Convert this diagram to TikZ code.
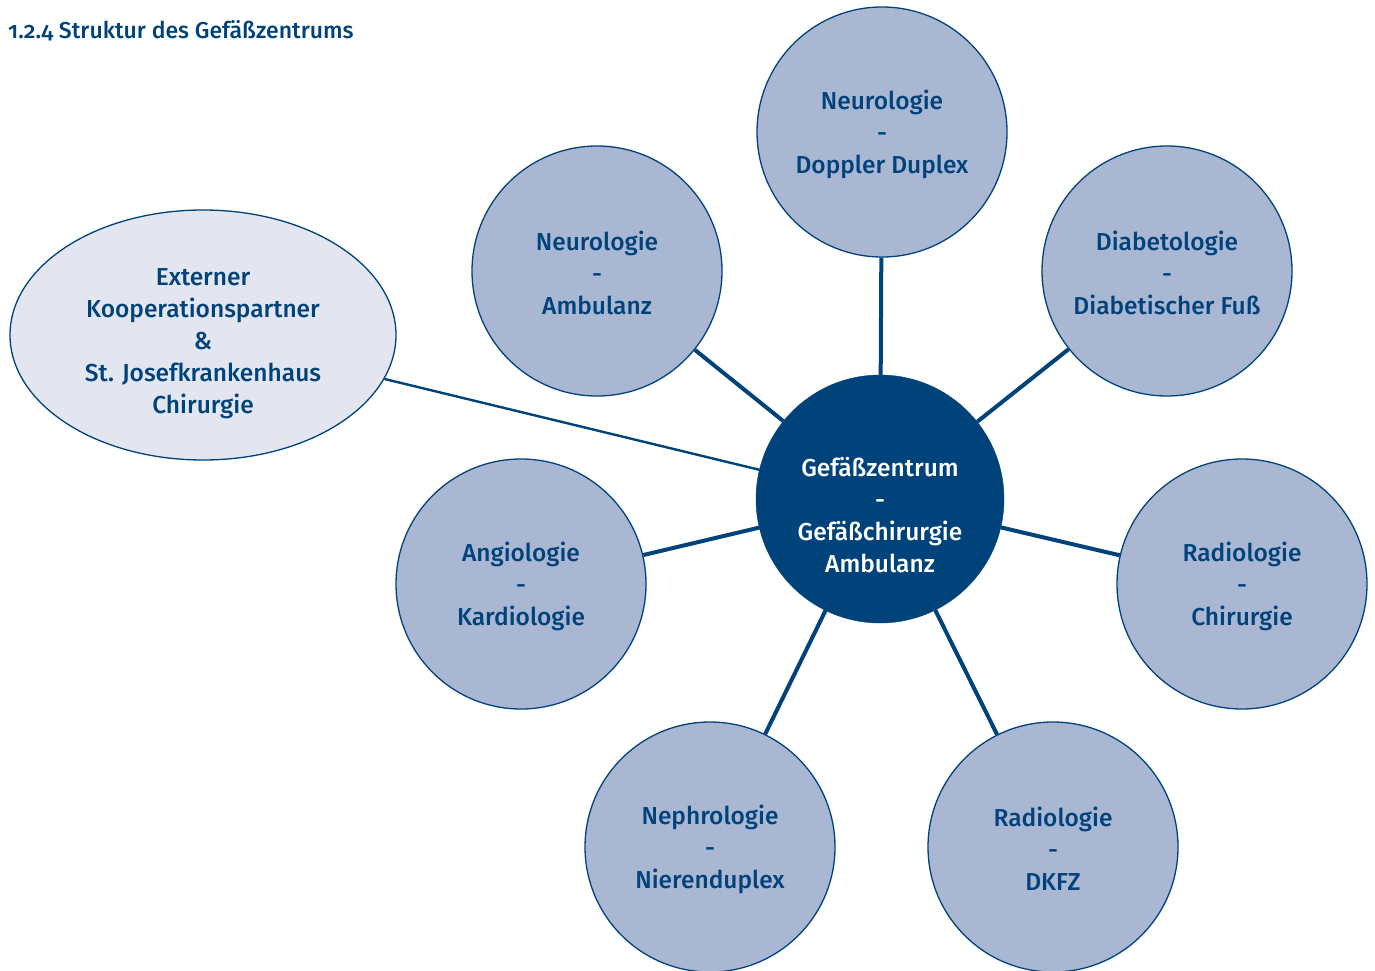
\documentclass[tikz,border=0pt]{standalone}
\usepackage{fontspec}
\setmainfont{Fira Sans}[UprightFont=* Medium, Numbers=OldStyle]
\usetikzlibrary{shapes.geometric,backgrounds}
\definecolor{dblue}{HTML}{00427A}
\definecolor{circfill}{HTML}{AAB7D3}
\definecolor{ellfill}{HTML}{E3E6F0}
\begin{document}
\begin{tikzpicture}[x=1pt,y=-1pt,
  unit/.style={circle,draw=dblue,line width=1.3pt,fill=circfill,minimum size=250pt,inner sep=0pt},
  hub/.style={circle,draw=dblue,fill=dblue,minimum size=248pt,inner sep=0pt},
  partner/.style={ellipse,draw=dblue,line width=1.3pt,fill=ellfill,minimum width=386pt,minimum height=250pt,inner sep=0pt},
  lbl/.style={align=center,text=dblue,font=\fontsize{24.5}{32}\selectfont,inner sep=0pt},
  spoke/.style={draw=dblue,line width=4pt},
  link/.style={draw=dblue,line width=2.4pt}]
\useasboundingbox (0,0) rectangle (1375,971);

% heading
\node[anchor=base west,text=dblue,font=\fontsize{23}{26}\selectfont,inner sep=0pt] (title) at (8,39)
  {1.2.4 Struktur des Gefäßzentrums};

% central hub
\node[hub] (hub) at (880,499) {};
\node[lbl,text=white] (hubtext) at (880,515) {Gefäßzentrum\\-\\Gefäßchirurgie\\Ambulanz};

% departments: circle and its label
\node[unit] (neurodd)  at (882,132)  {};
\node[lbl]  (neuroddtext) at (882,134) {Neurologie\\-\\Doppler Duplex};
\node[unit] (neuroamb) at (597,271)  {};
\node[lbl]  (neuroambtext) at (597,273) {Neurologie\\-\\Ambulanz};
\node[unit] (diab)     at (1167,271) {};
\node[lbl]  (diabtext) at (1167,273) {Diabetologie\\-\\Diabetischer Fuß};
\node[unit] (angio)    at (521,584)  {};
\node[lbl]  (angiotext) at (521,586) {Angiologie\\-\\Kardiologie};
\node[unit] (radchir)  at (1242,584) {};
\node[lbl]  (radchirtext) at (1242,586) {Radiologie\\-\\Chirurgie};
\node[unit] (nephro)   at (710,847)  {};
\node[lbl]  (nephrotext) at (710,849) {Nephrologie\\-\\Nierenduplex};
\node[unit] (raddkfz)  at (1053,847) {};
\node[lbl]  (raddkfztext) at (1053,849) {Radiologie\\-\\DKFZ};

% external partner
\node[partner] (ext) at (203,335) {};
\node[lbl] (exttext) at (203,344)
  {Externer\\Kooperationspartner\\\&\\St. Josefkrankenhaus\\Chirurgie};

\begin{scope}[on background layer]
  \fill[white] (0,0) rectangle (1375,971);
  \draw[spoke] (hub) -- (neurodd);
  \draw[spoke] (hub) -- (neuroamb);
  \draw[spoke] (hub) -- (diab);
  \draw[spoke] (hub) -- (angio);
  \draw[spoke] (hub) -- (radchir);
  \draw[spoke] (hub) -- (nephro);
  \draw[spoke] (hub) -- (raddkfz);
  \draw[link] (hub) -- (ext);
\end{scope}
\end{tikzpicture}
\end{document}
